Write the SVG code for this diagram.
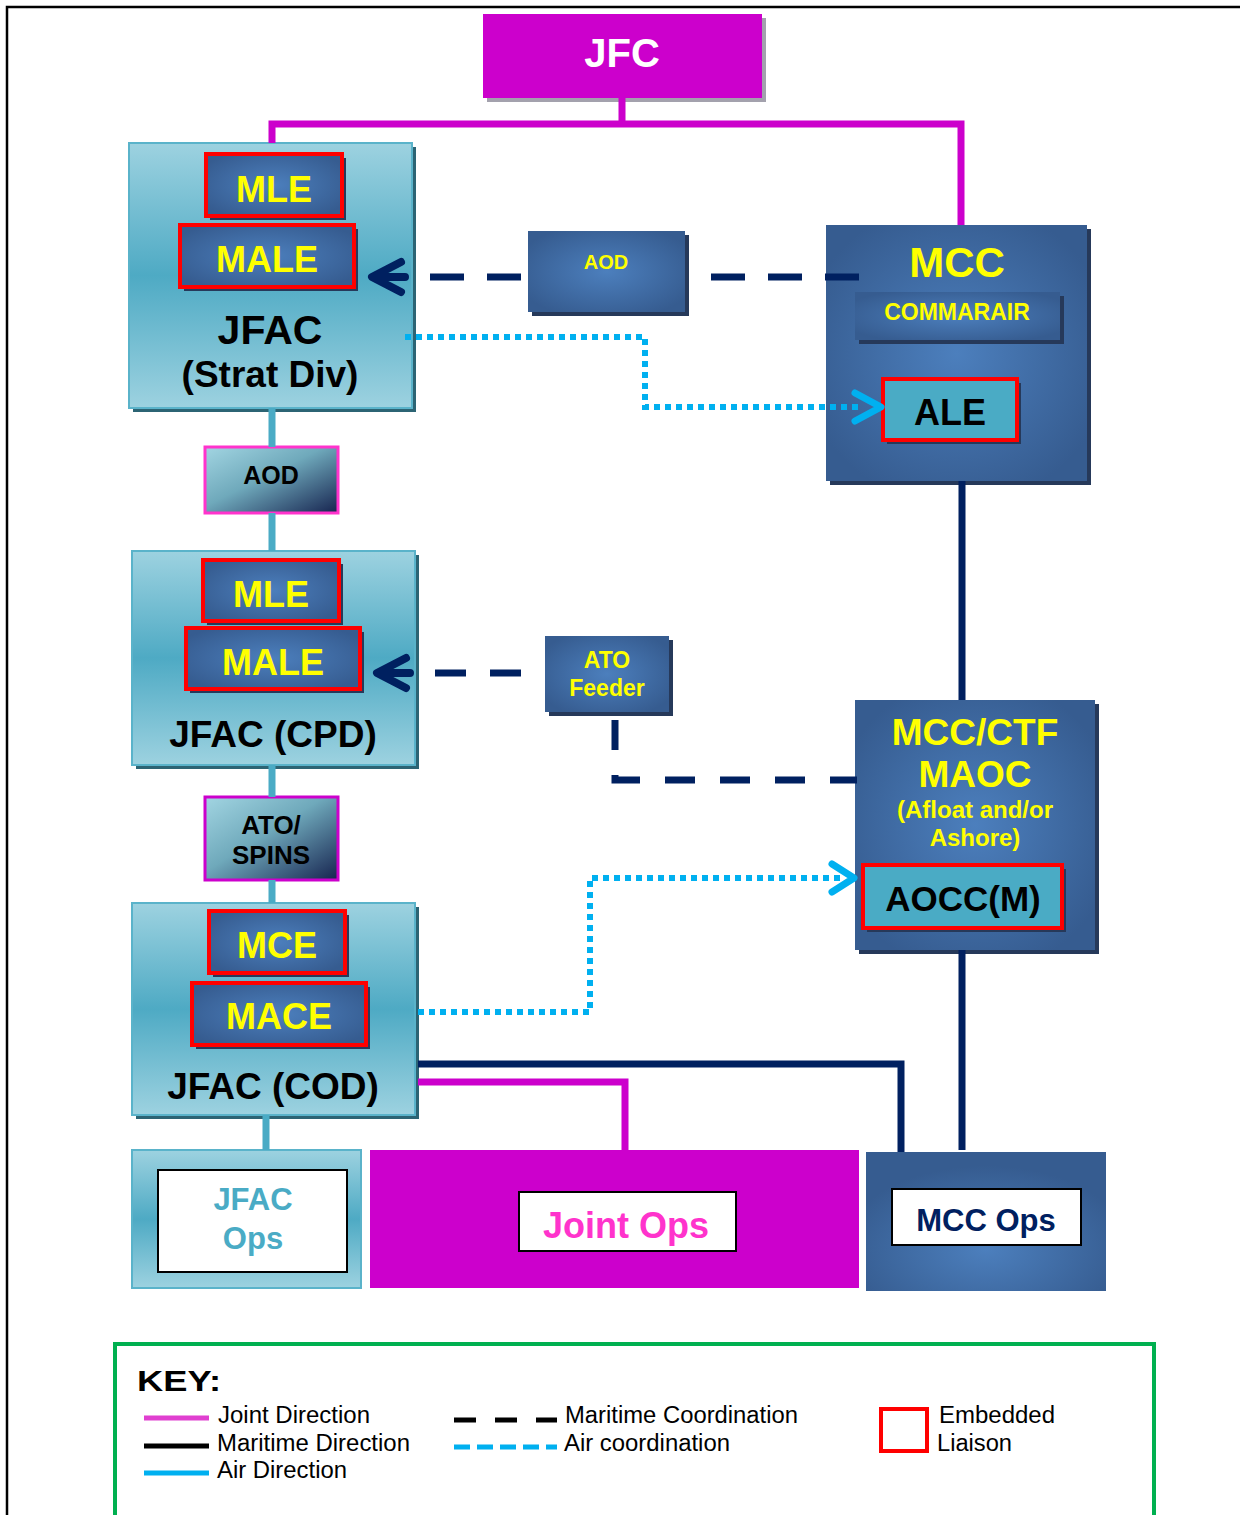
<svg xmlns="http://www.w3.org/2000/svg" width="1240" height="1515" viewBox="0 0 1240 1515">
<defs>
<linearGradient id="gTeal" x1="0" y1="0" x2="0" y2="1">
<stop offset="0" stop-color="#9dd2e0"/>
<stop offset="0.5" stop-color="#4eaac4"/>
<stop offset="1" stop-color="#9dd2e0"/>
</linearGradient>
<radialGradient id="gBlue" cx="0.5" cy="0.5" r="0.6">
<stop offset="0" stop-color="#4c7fbd"/>
<stop offset="1" stop-color="#365c90"/>
</radialGradient>
<radialGradient id="gBlueLow" cx="0.5" cy="0.7" r="0.6">
<stop offset="0" stop-color="#4c7fbd"/>
<stop offset="1" stop-color="#365c90"/>
</radialGradient>
<linearGradient id="gDiag" x1="0" y1="0" x2="1" y2="1">
<stop offset="0" stop-color="#a2d5e2"/>
<stop offset="0.45" stop-color="#6fa9bb"/>
<stop offset="1" stop-color="#16234f"/>
</linearGradient>
<style>
text{font-family:"Liberation Sans",Arial,sans-serif;font-weight:bold;text-anchor:middle}
.y{fill:#ffff00}
.k{fill:#000}
.teal{fill:url(#gTeal);stroke:#5ab3ca;stroke-width:2}
.blue{fill:url(#gBlue)}
.red{fill:url(#gBlue);stroke:#ff0000;stroke-width:4}
.redT{fill:#4aabc5;stroke:#ff0000;stroke-width:4}
.shT{fill:#2c6474}
.shB{fill:#26395a}
.conn{fill:none;stroke-width:7}
.mag{stroke:#cc00cc}
.tl{stroke:#4aabc5}
.nv{stroke:#002060}
.dot{fill:none;stroke:#00b0f0;stroke-width:6;stroke-dasharray:6 5}
.chevN{fill:none;stroke:#002060;stroke-width:8;stroke-linecap:round;stroke-linejoin:round}
.chevB{fill:none;stroke:#00b0f0;stroke-width:7;stroke-linecap:round;stroke-linejoin:round}
.leg{font-weight:normal;text-anchor:start;font-size:23px;fill:#000}
.wbox{fill:#fff;stroke:#000;stroke-width:2}
</style>
</defs>
<rect width="1240" height="1515" fill="#fff"/>
<path d="M7,1515 V7 H1240" fill="none" stroke="#000" stroke-width="2.5"/>

<g id="jfc">
<rect x="487" y="18" width="279" height="84" fill="#a3a1ad"/>
<rect x="483" y="14" width="279" height="84" fill="#cc00cc"/>
<text x="622" y="67" font-size="40" fill="#fff">JFC</text>
</g>

<g id="jfac-strat">
<rect x="133" y="147" width="283" height="265" class="shT"/>
<rect x="129" y="143" width="283" height="265" class="teal"/>
<rect x="210" y="158" width="136" height="62" class="shB"/>
<rect x="206" y="154" width="136" height="62" class="red"/>
<text x="274" y="202" font-size="36" class="y">MLE</text>
<rect x="184" y="229" width="174" height="62" class="shB"/>
<rect x="180" y="225" width="174" height="62" class="red"/>
<text x="267" y="272" font-size="36" class="y">MALE</text>
<text x="270" y="344" font-size="41" class="k">JFAC</text>
<text x="270" y="387" font-size="37" class="k">(Strat Div)</text>
</g>

<g id="aod-top">
<rect x="532" y="235" width="157" height="81" class="shB"/>
<rect x="528" y="231" width="157" height="81" class="blue"/>
<text x="606" y="269" font-size="20" class="y">AOD</text>
</g>

<g id="mcc">
<rect x="830" y="229" width="261" height="256" class="shB"/>
<rect x="826" y="225" width="261" height="256" class="blue"/>
<text x="957" y="277" font-size="42" class="y">MCC</text>
<rect x="859" y="296" width="205" height="48" class="shB"/>
<rect x="855" y="292" width="205" height="48" class="blue"/>
<text x="957" y="320" font-size="23" class="y">COMMARAIR</text>
<rect x="887" y="383" width="134" height="61" class="shB"/>
<rect x="883" y="379" width="134" height="61" class="redT"/>
<text x="950" y="425" font-size="36" class="k">ALE</text>
</g>

<g id="aod-pink">
<rect x="205" y="447" width="133" height="66" fill="url(#gDiag)" stroke="#ff33cc" stroke-width="3"/>
<text x="271" y="484" font-size="25" class="k">AOD</text>
</g>

<g id="jfac-cpd">
<rect x="136" y="555" width="283" height="214" class="shT"/>
<rect x="132" y="551" width="283" height="214" class="teal"/>
<rect x="207" y="564" width="136" height="61" class="shB"/>
<rect x="203" y="560" width="136" height="61" class="red"/>
<text x="271" y="607" font-size="36" class="y">MLE</text>
<rect x="190" y="632" width="174" height="61" class="shB"/>
<rect x="186" y="628" width="174" height="61" class="red"/>
<text x="273" y="675" font-size="36" class="y">MALE</text>
<text x="273" y="747" font-size="37" class="k">JFAC (CPD)</text>
</g>

<g id="ato-feeder">
<rect x="549" y="640" width="124" height="76" class="shB"/>
<rect x="545" y="636" width="124" height="76" class="blue"/>
<text x="607" y="668" font-size="23" class="y">ATO</text>
<text x="607" y="696" font-size="23" class="y">Feeder</text>
</g>

<g id="ato-spins">
<rect x="205" y="797" width="133" height="83" fill="url(#gDiag)" stroke="#cc00cc" stroke-width="3"/>
<text x="271" y="834" font-size="26" class="k">ATO/</text>
<text x="271" y="864" font-size="26" class="k">SPINS</text>
</g>

<g id="mcc-ctf">
<rect x="859" y="704" width="240" height="250" class="shB"/>
<rect x="855" y="700" width="240" height="250" class="blue"/>
<text x="975" y="745" font-size="37" class="y">MCC/CTF</text>
<text x="975" y="787" font-size="37" class="y">MAOC</text>
<text x="975" y="818" font-size="24" class="y">(Afloat and/or</text>
<text x="975" y="846" font-size="24" class="y">Ashore)</text>
<rect x="867" y="869" width="199" height="63" class="shB"/>
<rect x="863" y="865" width="199" height="63" class="redT"/>
<text x="963" y="911" font-size="35" class="k">AOCC(M)</text>
</g>

<g id="jfac-cod">
<rect x="136" y="907" width="283" height="212" class="shT"/>
<rect x="132" y="903" width="283" height="212" class="teal"/>
<rect x="213" y="915" width="136" height="62" class="shB"/>
<rect x="209" y="911" width="136" height="62" class="red"/>
<text x="277" y="958" font-size="36" class="y">MCE</text>
<rect x="196" y="987" width="174" height="62" class="shB"/>
<rect x="192" y="983" width="174" height="62" class="red"/>
<text x="279" y="1029" font-size="36" class="y">MACE</text>
<text x="273" y="1099" font-size="37" class="k">JFAC (COD)</text>
</g>

<g id="jfac-ops">
<rect x="132" y="1150" width="229" height="138" class="teal"/>
<rect x="158" y="1170" width="189" height="102" class="wbox"/>
<text x="253" y="1210" font-size="31" fill="#4aabc5">JFAC</text>
<text x="253" y="1249" font-size="31" fill="#4aabc5">Ops</text>
</g>

<g id="joint-ops">
<rect x="370" y="1150" width="489" height="138" fill="#cc00cc"/>
<rect x="519" y="1192" width="217" height="59" class="wbox"/>
<text x="626" y="1238" font-size="36" fill="#ff33cc">Joint Ops</text>
</g>

<g id="mcc-ops">
<rect x="866" y="1152" width="240" height="139" fill="url(#gBlueLow)"/>
<rect x="892" y="1189" width="189" height="56" class="wbox"/>
<text x="986" y="1231" font-size="31" fill="#002060">MCC Ops</text>
</g>

<g id="connectors">
<path class="conn mag" d="M622,98 V127 M272,143 V124 H961 V225"/>
<path class="conn mag" d="M418,1082 H625 V1150"/>
<path class="conn tl" d="M272,408 V447 M272,513 V551 M272,765 V797 M272,880 V903 M266,1115 V1150"/>
<path class="conn nv" d="M962,481 V700 M962,950 V1150 M418,1064 H901 V1152"/>
<path class="conn nv" stroke-dasharray="34 23" d="M430,277 H528 M711,277 H859"/>
<path class="conn nv" stroke-dasharray="31 24" d="M435,673 H522"/>
<path class="conn nv" stroke-dasharray="30 25" d="M615,720 V780 H857"/>
<path class="dot" d="M405,337 H645 V407 H862"/>
<path class="dot" d="M418,1012 H590 V878 H840"/>
<path class="chevN" d="M401,262 L372,277 L401,292 M374,277 H405"/>
<path class="chevN" d="M406,658 L377,673 L406,688 M379,673 H410"/>
<path class="chevB" d="M855,393 L881,407 L855,421"/>
<path class="chevB" d="M832,864 L854,878 L832,892"/>
</g>

<g id="key">
<rect x="115" y="1344" width="1039" height="190" fill="none" stroke="#00b050" stroke-width="4"/>
<text x="137" y="1391" font-size="30" style="text-anchor:start" textLength="84" lengthAdjust="spacingAndGlyphs">KEY:</text>
<line x1="144" y1="1418" x2="209" y2="1418" stroke="#e040d0" stroke-width="5"/>
<line x1="144" y1="1446" x2="209" y2="1446" stroke="#000" stroke-width="5"/>
<line x1="144" y1="1473" x2="209" y2="1473" stroke="#00b0f0" stroke-width="5"/>
<text class="leg" x="218" y="1423" textLength="152" lengthAdjust="spacingAndGlyphs">Joint Direction</text>
<text class="leg" x="217" y="1451" textLength="193" lengthAdjust="spacingAndGlyphs">Maritime Direction</text>
<text class="leg" x="217" y="1478" textLength="130" lengthAdjust="spacingAndGlyphs">Air Direction</text>
<line x1="454" y1="1420" x2="557" y2="1420" stroke="#000" stroke-width="5" stroke-dasharray="22 19"/>
<line x1="454" y1="1447" x2="557" y2="1447" stroke="#00b0f0" stroke-width="5" stroke-dasharray="16 7"/>
<text class="leg" x="565" y="1423" textLength="233" lengthAdjust="spacingAndGlyphs">Maritime Coordination</text>
<text class="leg" x="564" y="1451" textLength="166" lengthAdjust="spacingAndGlyphs">Air coordination</text>
<rect x="881" y="1409" width="46" height="42" fill="none" stroke="#ff0000" stroke-width="4"/>
<text class="leg" x="939" y="1423" textLength="116" lengthAdjust="spacingAndGlyphs">Embedded</text>
<text class="leg" x="937" y="1451" textLength="75" lengthAdjust="spacingAndGlyphs">Liaison</text>
</g>
</svg>
